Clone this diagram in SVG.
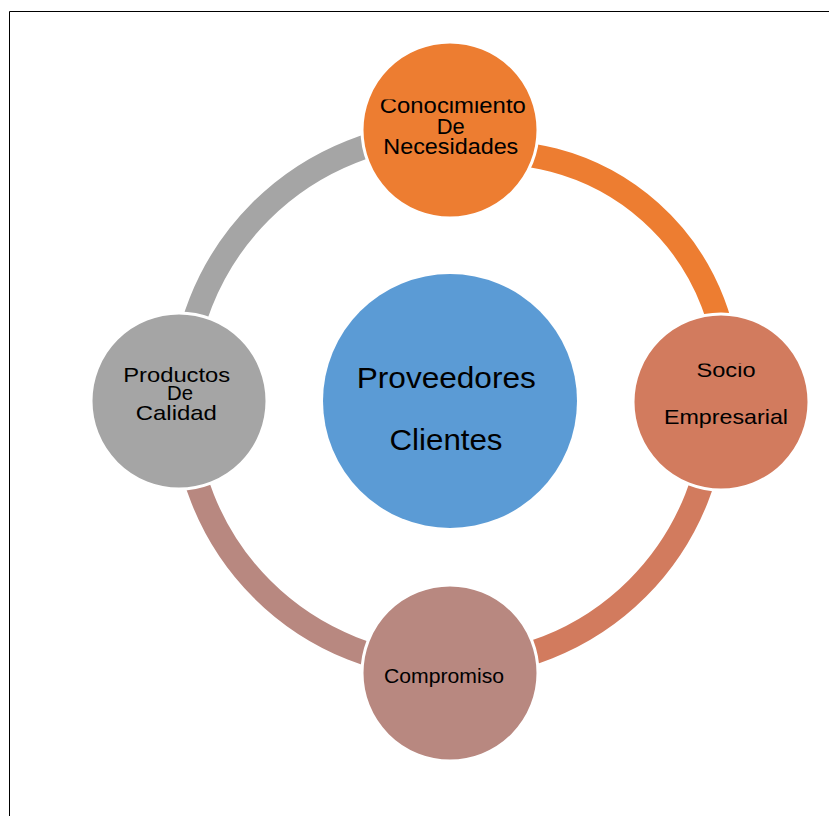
<svg xmlns="http://www.w3.org/2000/svg" width="829" height="816" viewBox="0 0 829 816">
<style>
.lbl{font-family:"Liberation Sans",Arial,sans-serif;fill:#000;text-anchor:middle}
.node{stroke:#fff;stroke-width:3}
.arc{fill:none;stroke-width:24;stroke-linecap:butt}
</style>
<defs>
<clipPath id="clipTop"><rect x="360" y="99.5" width="180" height="120"/></clipPath>
<clipPath id="clipRight"><rect x="630" y="363.5" width="180" height="130"/></clipPath>
</defs>
<rect x="0" y="0" width="829" height="816" fill="#fff"/>
<path d="M9.5 816 V11.5 H829" fill="none" stroke="#000" stroke-width="1"/>
<g id="connectors">
<path class="arc" stroke="#ED7D31" d="M455 156 A233.6 233.6 0 0 1 727.9 400"/>
<path class="arc" stroke="#D27B5E" d="M715 401 A265 265 0 0 1 450 666"/>
<path class="arc" stroke="#B88880" d="M450 667 A266 266 0 0 1 184 401"/>
<path class="arc" stroke="#A5A5A5" d="M182 401 A268 268 0 0 1 450 133"/>
</g>
<g id="center">
<circle cx="450" cy="401" r="127" fill="#5B9BD5"/>
<text class="lbl" font-size="30" x="446.3" y="388.3" textLength="179" lengthAdjust="spacingAndGlyphs">Proveedores</text>
<text class="lbl" font-size="30" x="446" y="450" textLength="113" lengthAdjust="spacingAndGlyphs">Clientes</text>
</g>
<g id="node-top">
<circle class="node" cx="450" cy="130" r="88" fill="#ED7D31"/>
<g clip-path="url(#clipTop)">
<text class="lbl" font-size="22" x="452.8" y="113" textLength="146" lengthAdjust="spacingAndGlyphs">Conocimiento</text>
</g>
<text class="lbl" font-size="22" x="450.8" y="134" textLength="28" lengthAdjust="spacingAndGlyphs">De</text>
<text class="lbl" font-size="22" x="450.8" y="154" textLength="135" lengthAdjust="spacingAndGlyphs">Necesidades</text>
</g>
<g id="node-right">
<circle class="node" cx="721" cy="402" r="88" fill="#D27B5E"/>
<g clip-path="url(#clipRight)">
<text class="lbl" font-size="21" x="726" y="377.3" textLength="59" lengthAdjust="spacingAndGlyphs">Socio</text>
</g>
<text class="lbl" font-size="21" x="726" y="424" textLength="124" lengthAdjust="spacingAndGlyphs">Empresarial</text>
</g>
<g id="node-bottom">
<circle class="node" cx="450" cy="673" r="88" fill="#B88880"/>
<text class="lbl" font-size="20" x="444" y="683.3" textLength="120" lengthAdjust="spacingAndGlyphs">Compromiso</text>
</g>
<g id="node-left">
<circle class="node" cx="179" cy="401" r="88" fill="#A5A5A5"/>
<text class="lbl" font-size="21" x="176.7" y="381.7" textLength="107" lengthAdjust="spacingAndGlyphs">Productos</text>
<text class="lbl" font-size="21" x="180" y="400" textLength="26" lengthAdjust="spacingAndGlyphs">De</text>
<text class="lbl" font-size="21" x="176.3" y="420" textLength="81" lengthAdjust="spacingAndGlyphs">Calidad</text>
</g>
</svg>
